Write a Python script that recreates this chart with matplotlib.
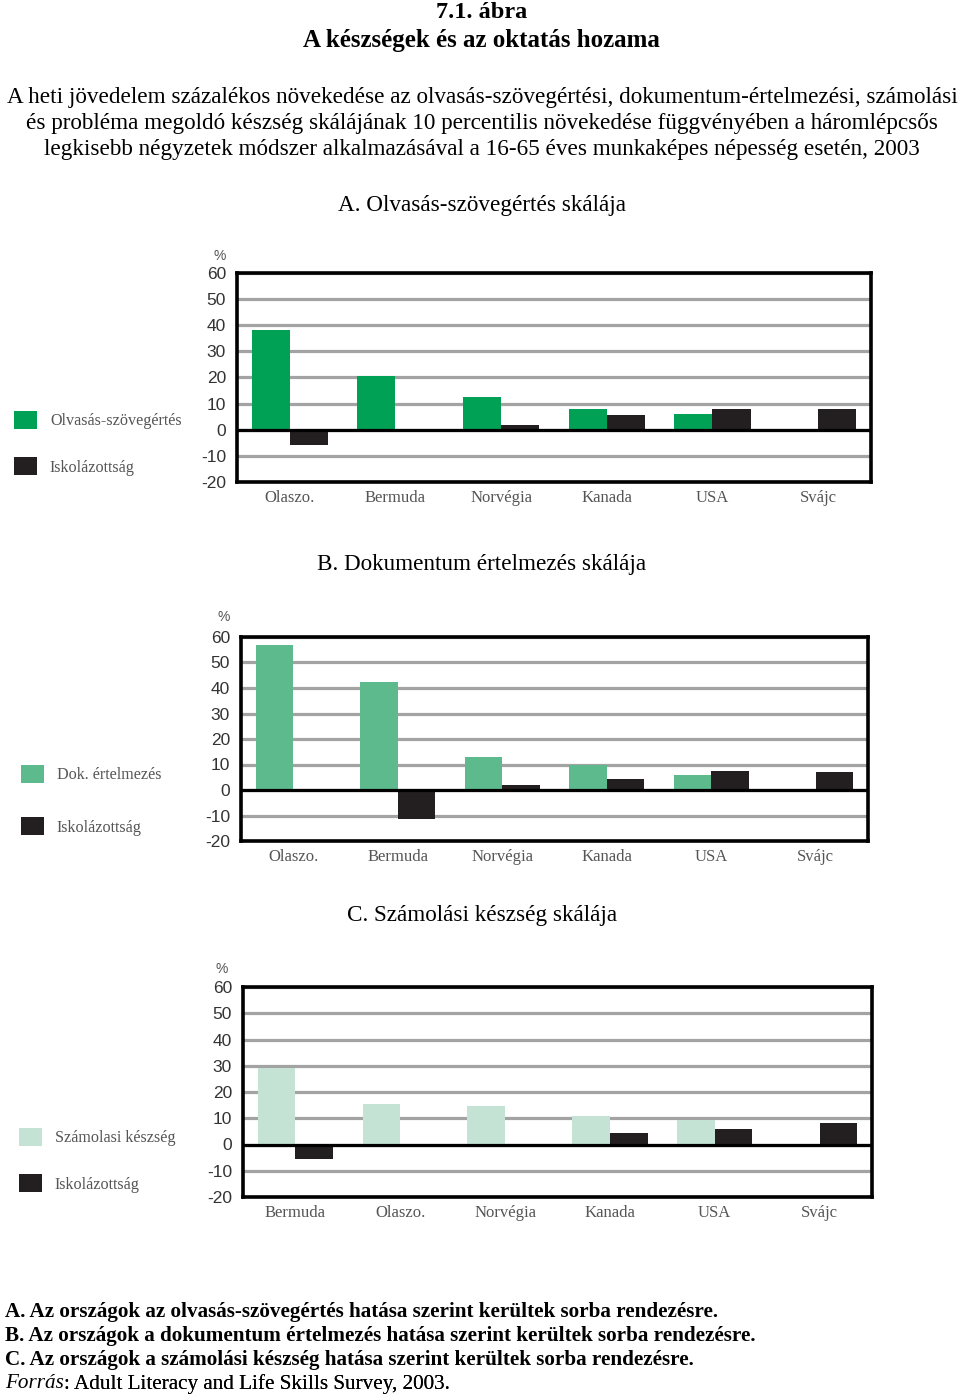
import matplotlib
matplotlib.use("Agg")
import matplotlib.pyplot as plt
from matplotlib.patches import Patch

W, H = 960, 1397

# data (percent)
panel_titles = ["A. Olvasás-szövegértés skálája",
                "B. Dokumentum értelmezés skálája",
                "C. Számolási készség skálája"]

countries_a = ["Olaszo.", "Bermuda", "Norvégia", "Kanada", "USA", "Svájc"]
skill_a = [38, 20.7, 12.4, 7.9, 5.9, 0]
school_a = [-6, 0, 2, 5.5, 7.9, 7.9]

countries_b = ["Olaszo.", "Bermuda", "Norvégia", "Kanada", "USA", "Svájc"]
skill_b = [56.7, 42.4, 12.9, 9.7, 5.9, 0]
school_b = [0, -11.4, 2.1, 4.3, 7.6, 7.2]

countries_c = ["Bermuda", "Olaszo.", "Norvégia", "Kanada", "USA", "Svájc"]
skill_c = [29.3, 15.4, 14.6, 11, 9.3, 0]
school_c = [-5.6, 0, 0, 4.2, 6, 8.3]

legend_skill = ["Olvasás-szövegértés", "Dok. értelmezés", "Számolasi készség"]
legend_school = "Iskolázottság"

yticks = list(range(-20, 61, 10))

SERIF = "Liberation Serif"
NARROW = ["Liberation Sans Narrow", "Liberation Sans", "DejaVu Sans"]
BLACK = "#231f20"
GREY_TXT = "#555555"


def rect(l, t, r, b):
    return [l / W, 1 - b / H, (r - l) / W, (b - t) / H]


def fy(y):
    return 1 - y / H


fig = plt.figure(figsize=(W / 100, H / 100), dpi=100)

# header
fig.text(0.502, fy(12), "7.1. ábra", ha="center", va="center",
         family=SERIF, weight="bold", fontsize=17.5)
fig.text(0.502, fy(40), "A készségek és az oktatás hozama", ha="center",
         va="center", family=SERIF, weight="bold", fontsize=18)
para = ["A heti jövedelem százalékos növekedése az olvasás-szövegértési, dokumentum-értelmezési, számolási",
        "és probléma megoldó készség skálájának 10 percentilis növekedése függvényében a háromlépcsős",
        "legkisebb négyzetek módszer alkalmazásával a 16-65 éves munkaképes népesség esetén, 2003"]
for i, line in enumerate(para):
    fig.text(0.502, fy(97 + 26.5 * i), line, ha="center", va="center",
             family=SERIF, fontsize=16.7)

# colour, axes box (px), title y, legend pos, "%" pos, legend row spacing
panels = [
    (countries_a, skill_a, school_a, "#00a055", (237, 273, 871, 482), 206,
     (14, 411), (220, 256), 1.75),
    (countries_b, skill_b, school_b, "#5cba8c", (241, 637, 868, 841), 565,
     (21, 765), (224, 617), 2.13),
    (countries_c, skill_c, school_c, "#c5e3d4", (243, 987, 872, 1197), 916,
     (19, 1128), (222, 969), 1.75),
]

for k, (cats, skill, school, col, box, ty, lpos, ppos, lsp) in enumerate(panels):
    fig.text(0.502, fy(ty), panel_titles[k], ha="center", va="center",
             family=SERIF, fontsize=16.7)
    ax = fig.add_axes(rect(*box))
    x = list(range(len(cats)))
    w = 0.36
    ax.bar([i - w / 2 for i in x], skill, width=w, color=col, zorder=2)
    ax.bar([i + w / 2 for i in x], school, width=w, color=BLACK, zorder=2)
    ax.axhline(0, color="black", lw=2.3, zorder=3)
    ax.set_xlim(-0.5, 5.5)
    ax.set_ylim(-20, 60)
    ax.set_yticks(yticks)
    ax.set_yticklabels([str(v) for v in yticks], family=NARROW,
                       fontsize=12.5, color="#333333")
    ax.set_xticks(x)
    ax.set_xticklabels(cats, family=SERIF, fontsize=12, color=GREY_TXT)
    ax.tick_params(length=0, pad=8)
    ax.tick_params(axis="x", pad=6)
    ax.grid(axis="y", color="#a3a3a3", lw=2.3, zorder=1)
    ax.set_axisbelow(True)
    for s in ax.spines.values():
        s.set_linewidth(2.6)
        s.set_color("black")
    fig.text(ppos[0] / W, fy(ppos[1]), "%", ha="center", va="center",
             family=NARROW, fontsize=10, color="#555555")

    handles = [Patch(facecolor=col, edgecolor="none"),
               Patch(facecolor=BLACK, edgecolor="none")]
    fig.legend(handles, [legend_skill[k], legend_school], loc="upper left",
               bbox_to_anchor=(lpos[0] / W, fy(lpos[1])), frameon=False,
               borderpad=0, borderaxespad=0,
               prop={"family": SERIF, "size": 11.6},
               labelcolor=GREY_TXT, handlelength=1.43, handleheight=1.3,
               handletextpad=0.8, labelspacing=lsp)

# footnotes
notes = ["A. Az országok az olvasás-szövegértés hatása szerint kerültek sorba rendezésre.",
         "B. Az országok a dokumentum értelmezés hatása szerint kerültek sorba rendezésre.",
         "C. Az országok a számolási készség hatása szerint kerültek sorba rendezésre."]
for i, line in enumerate(notes):
    fig.text(5 / W, fy(1312 + 24 * i), line, ha="left", va="center",
             family=SERIF, weight="bold", fontsize=15.2)
src = fig.text(5 / W, fy(1384), "Forrás", ha="left", va="center",
               family=SERIF, style="italic", fontsize=15.2)
fig.add_artist(plt.annotate(": Adult Literacy and Life Skills Survey, 2003.",
                            xy=(1, 0.5), xycoords=src, ha="left", va="center",
                            family=SERIF, fontsize=15.2,
                            annotation_clip=False))

fig.savefig("out.png", dpi=100)
